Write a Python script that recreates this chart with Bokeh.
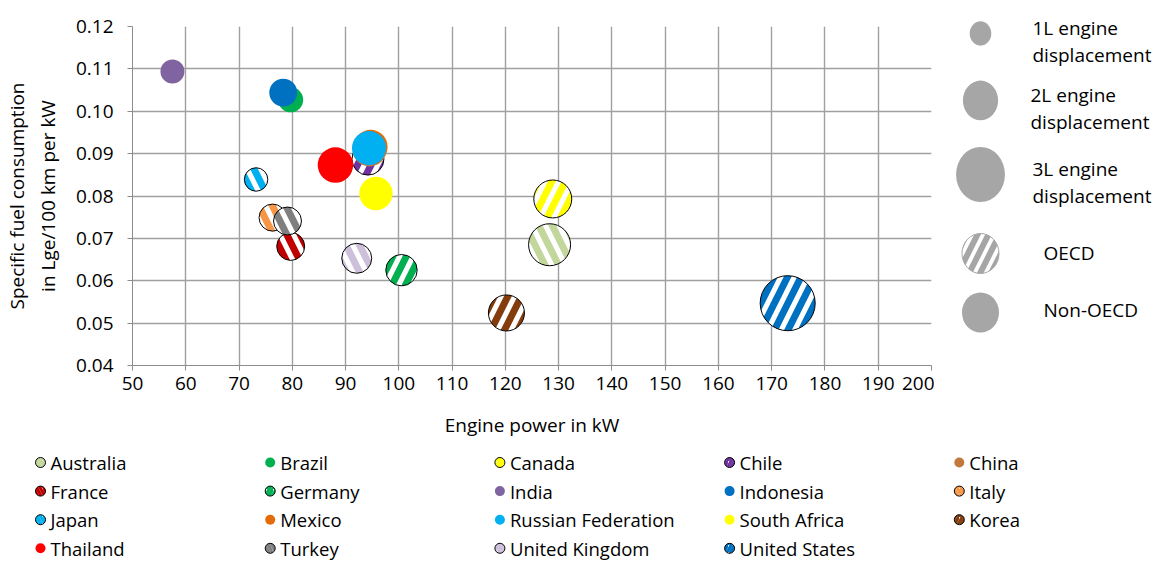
from bokeh.plotting import figure
from bokeh.models import Range1d, FixedTicker, NumeralTickFormatter, GlobalInlineStyleSheet
from bokeh.layouts import row, column
from bokeh.embed import file_html
from bokeh.resources import INLINE
from bokeh.core.properties import value

# ---------------- data ----------------
countries = ["Australia", "Brazil", "Canada", "Chile", "China",
             "France", "Germany", "India", "Indonesia", "Italy",
             "Japan", "Mexico", "Russian Federation", "South Africa", "Korea",
             "Thailand", "Turkey", "United Kingdom", "United States"]
power_kw = [128.3, 79.7, 128.9, 94.2, 94.5,
            79.7, 100.5, 57.5, 78.3, 76.3,
            73.2, 94.7, 94.4, 95.7, 120.2,
            88.1, 79.1, 92.1, 173.0]
fuel_per_kw = [0.0685, 0.1027, 0.0793, 0.0887, 0.0910,
               0.0681, 0.0625, 0.1094, 0.1044, 0.0749,
               0.0839, 0.0916, 0.0913, 0.0806, 0.0524,
               0.0873, 0.0741, 0.0653, 0.0547]
displacement_l = [2.31, 1.14, 2.03, 1.62, 1.76,
                  1.34, 1.58, 1.07, 1.34, 1.28,
                  1.03, 1.76, 1.76, 1.72, 1.90,
                  1.86, 1.34, 1.48, 3.21]
is_oecd = [True, False, True, True, False,
           True, True, False, False, True,
           True, False, False, False, True,
           False, True, True, True]
colors = ["#C3D69B", "#00B050", "#FFFF00", "#7030A0", "#C0783C",
          "#C00000", "#00B050", "#8064A2", "#0070C0", "#F79646",
          "#00B0F0", "#E36C09", "#00B0F0", "#FFFF00", "#843C0C",
          "#FF0000", "#7F7F7F", "#CCC0DA", "#0070C0"]
stripe_dir = ["\\", "", "/", "/", "",
              "\\", "/", "", "", "\\",
              "\\", "", "", "", "/",
              "", "\\", "\\", "/"]

x_ticks = list(range(50, 201, 10))
y_ticks = [0.04, 0.05, 0.06, 0.07, 0.08, 0.09, 0.10, 0.11, 0.12]

size_legend_l = [1, 2, 3]
size_legend_text = [["1L engine", "displacement"],
                    ["2L engine", "displacement"],
                    ["3L engine", "displacement"]]

FONT = "Open Sans"
GRID = "#A0A0A0"
AXIS = "#8C8C8C"


def radius_px(litres):
    return 4.25 + 7.25 * litres


page_css = GlobalInlineStyleSheet(css="html, body { overflow: hidden !important; }")

# ---------------- main chart ----------------
p = figure(width=934, height=440, x_range=Range1d(50, 200), y_range=Range1d(0.04, 0.12),
           output_backend="svg", toolbar_location=None,
           min_border_left=129, min_border_right=3, min_border_top=26, min_border_bottom=74)
p.frame_align = False
p.stylesheets = [page_css]
p.outline_line_color = None
p.background_fill_color = "white"

p.xaxis.ticker = FixedTicker(ticks=x_ticks)
p.yaxis.ticker = FixedTicker(ticks=y_ticks)
p.xgrid.ticker = FixedTicker(ticks=x_ticks)
p.ygrid.ticker = FixedTicker(ticks=y_ticks)
p.yaxis.formatter = NumeralTickFormatter(format="0.00")
for g in (p.xgrid, p.ygrid):
    g.grid_line_color = GRID
    g.grid_line_width = 1.4

for ax in (p.xaxis, p.yaxis):
    ax.axis_line_color = AXIS
    ax.major_tick_line_color = AXIS
    ax.major_tick_out = 5
    ax.major_tick_in = 0
    ax.minor_tick_line_color = None
    ax.major_label_text_font = FONT
    ax.major_label_text_font_size = "19px"
    ax.major_label_text_color = "black"
    ax.axis_label_text_font = FONT
    ax.axis_label_text_font_size = "19px"
    ax.axis_label_text_font_style = "normal"
    ax.axis_label_text_color = "black"

p.xaxis.axis_label = "Engine power in kW"
p.xaxis.major_label_standoff = 6
p.xaxis.axis_label_standoff = 19
p.yaxis.axis_label = "Specific fuel consumption\nin Lge/100 km per kW"
p.yaxis.major_label_standoff = 14
p.yaxis.axis_label_standoff = 12

for i in range(len(countries)):
    d = 2 * radius_px(displacement_l[i])
    if is_oecd[i]:
        p.scatter([power_kw[i]], [fuel_per_kw[i]], marker="circle", size=d,
                  fill_color="white", line_color="black", line_width=1,
                  hatch_pattern=stripe_dir[i], hatch_color=colors[i],
                  hatch_scale=27, hatch_weight=7)
    else:
        p.scatter([power_kw[i]], [fuel_per_kw[i]], marker="circle", size=d,
                  fill_color=colors[i], line_color=None)

# ---------------- right size / group legend ----------------
side = figure(width=226, height=440, x_range=Range1d(934, 1160), y_range=Range1d(440, 0),
              output_backend="svg", toolbar_location=None,
              x_axis_type=None, y_axis_type=None, min_border=0)
side.frame_align = False
side.outline_line_color = None
side.grid.visible = False

legend_rows_y = [33, 100, 174]
text_x = [1032, 1030, 1032]
for k, L in enumerate(size_legend_l):
    r = radius_px(L)
    side.ellipse([980], [legend_rows_y[k]], width=2 * r * 0.94, height=2 * r * 1.06,
                 fill_color="#A6A6A6", line_color=None)
    side.text([text_x[k], text_x[k]], [legend_rows_y[k] - 6, legend_rows_y[k] + 21],
              text=size_legend_text[k], text_font=value(FONT), text_font_size="19px",
              text_baseline="middle", text_align="left", text_color="black")

side.ellipse([980], [253], width=37, height=40, fill_color="white", line_color="#A6A6A6",
             line_width=1, hatch_pattern="/", hatch_color="#A6A6A6", hatch_scale=22, hatch_weight=6)
side.ellipse([980], [312], width=37, height=40, fill_color="#A6A6A6", line_color=None)
side.text([1043, 1043], [252, 309], text=["OECD", "Non-OECD"], text_font=value(FONT),
          text_font_size="19px", text_baseline="middle", text_align="left", text_color="black")

# ---------------- bottom country legend ----------------
leg = figure(width=1160, height=122, x_range=Range1d(0, 1160), y_range=Range1d(562, 440),
             output_backend="svg", toolbar_location=None,
             x_axis_type=None, y_axis_type=None, min_border=0)
leg.frame_align = False
leg.outline_line_color = None
leg.grid.visible = False

for i, name in enumerate(countries):
    col = i % 5
    rw = i // 5
    mx = 40 + col * 229.7
    my = 462 + rw * 28.6
    if is_oecd[i]:
        leg.scatter([mx], [my], marker="circle", size=10, fill_color="white",
                    line_color="black", line_width=1, hatch_pattern=stripe_dir[i],
                    hatch_color=colors[i], hatch_scale=7, hatch_weight=3)
    else:
        leg.scatter([mx], [my], marker="circle", size=10, fill_color=colors[i], line_color=None)
    leg.text([mx + 10], [my], text=[name], text_font=value(FONT), text_font_size="18.5px",
             text_baseline="middle", text_align="left", text_color="black")

layout = column(row(p, side, spacing=0), leg, spacing=0)
open("out.html", "w").write(file_html(layout, INLINE))
